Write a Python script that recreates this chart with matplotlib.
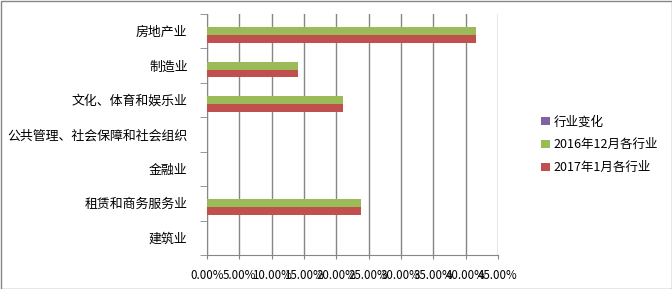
import matplotlib
matplotlib.use("Agg")
import matplotlib.pyplot as plt
import numpy as np
from matplotlib.patches import Patch, Rectangle
from matplotlib.ticker import FuncFormatter, FixedLocator

plt.rcParams['font.family'] = ['Noto Sans CJK SC', 'DejaVu Sans']

categories = ["房地产业", "制造业", "文化、体育和娱乐业", "公共管理、社会保障和社会组织",
              "金融业", "租赁和商务服务业", "建筑业"]
change = [0, 0, 0, 0, 0, 0, 0]
dec2016 = [41.6, 14.0, 21.0, 0, 0, 23.8, 0]
jan2017 = [41.6, 14.0, 21.0, 0, 0, 23.8, 0]
series_names = ["行业变化", "2016年12月各行业", "2017年1月各行业"]
colors = ["#8064A2", "#9BBB59", "#C0504D"]
xticks = [0, 5, 10, 15, 20, 25, 30, 35, 40, 45]

fig = plt.figure(figsize=(6.72, 2.89), dpi=100)
ax = fig.add_axes([207/672, 1-255/289, (498-207)/672, (255-14)/289])

y = np.arange(len(categories))
h = 0.225
for vals, off, c in zip([change, dec2016, jan2017], [-h, 0, h], colors):
    ax.barh(y + off, vals, height=h, color=c, zorder=3)

ax.set_ylim(len(categories) - 0.5, -0.5)
ax.set_xlim(0, 45)
ax.set_xticks(xticks)
ax.xaxis.set_major_formatter(FuncFormatter(lambda v, p: f"{v:.2f}%"))
ax.grid(axis='x', color='#868686', linewidth=1.0, zorder=0)
ax.set_yticks(y)
ax.set_yticklabels(categories, fontsize=9.3)
ax.yaxis.set_minor_locator(FixedLocator(np.arange(-0.5, len(categories), 1)))
ax.tick_params(axis='y', which='major', length=0, pad=14)
ax.tick_params(axis='y', which='minor', length=5, color='#868686', direction='out')
ax.tick_params(axis='x', length=3, color='#868686', labelsize=8.3, pad=7)
for s in ['top', 'right']:
    ax.spines[s].set_visible(False)
for s in ['left', 'bottom']:
    ax.spines[s].set_color('#868686')

handles = [Patch(facecolor=c, edgecolor='none') for c in colors]
fig.legend(handles, series_names, loc='upper left', bbox_to_anchor=(530/672, 1-104/289),
           frameon=False, fontsize=9, handlelength=0.7, handleheight=0.7,
           handletextpad=0.3, labelspacing=0.8)

fig.patches.append(Rectangle((0.5/672, 0.5/289), 1-1/672, 1-1/289, transform=fig.transFigure,
                             fill=False, edgecolor='#868686', linewidth=1.0))

fig.savefig("out.png", dpi=100)
